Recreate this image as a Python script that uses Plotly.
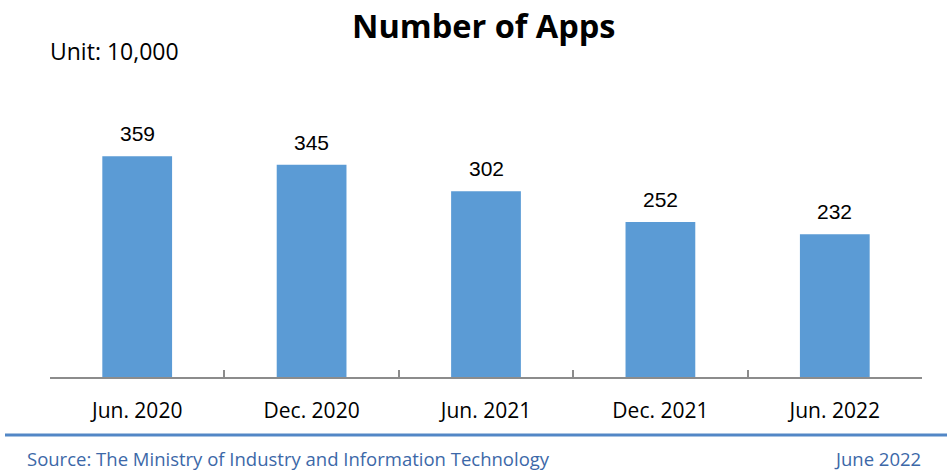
import plotly.graph_objects as go

periods = ["Jun. 2020", "Dec. 2020", "Jun. 2021", "Dec. 2021", "Jun. 2022"]
apps = [359, 345, 302, 252, 232]

title_text = "Number of Apps"
unit_text = "Unit: 10,000"
source_text = "Source: The Ministry of Industry and Information Technology"
date_text = "June 2022"

bar_color = "#5B9BD5"
axis_gray = "#8C8C8C"
footer_blue = "#3C68A8"

fig = go.Figure()

fig.add_trace(go.Bar(
    x=periods, y=apps,
    marker=dict(color=bar_color, line=dict(width=0)),
    width=0.4,
    hoverinfo="x+y",
))

# value labels above each bar
for p, v in zip(periods, apps):
    fig.add_annotation(
        x=p, y=v, text=str(v), showarrow=False,
        yanchor="bottom", yshift=9,
        font=dict(family="Liberation Sans, Arial", size=21, color="#000000"),
    )

# plot area in pixels: x 50..922, y 131..377
L, R, T, B = 50, 25, 131, 95
W, H = 947, 472
pw, ph = W - L - R, H - T - B


def px(x):
    return (x - L) / pw


def py(y):
    return (H - B - y) / ph


fig.add_annotation(
    x=px(484), y=py(25), xref="paper", yref="paper", text="<b>" + title_text + "</b>",
    showarrow=False, xanchor="center", yanchor="middle",
    font=dict(family="Open Sans", size=32.5, color="#000000"),
)
fig.add_annotation(
    x=px(48), y=py(51), xref="paper", yref="paper", text=unit_text,
    showarrow=False, xanchor="left", yanchor="middle",
    font=dict(family="Open Sans", size=23, color="#000000"),
)
fig.add_annotation(
    x=px(25), y=py(458), xref="paper", yref="paper", text=source_text,
    showarrow=False, xanchor="left", yanchor="middle",
    font=dict(family="Open Sans", size=18.5, color=footer_blue),
)
fig.add_annotation(
    x=px(923), y=py(458), xref="paper", yref="paper", text=date_text,
    showarrow=False, xanchor="right", yanchor="middle",
    font=dict(family="Open Sans", size=18.5, color=footer_blue),
)

# blue separator line above the footer
fig.add_shape(
    type="line", xref="paper", yref="paper",
    x0=px(5), x1=px(947), y0=py(435), y1=py(435),
    line=dict(color="#5287C6", width=3),
)

fig.update_layout(
    width=W, height=H,
    margin=dict(l=L, r=R, t=T, b=B),
    plot_bgcolor="white", paper_bgcolor="white",
    showlegend=False,
    bargap=0.6,
    xaxis=dict(
        showline=True, linecolor=axis_gray, linewidth=2,
        ticks="inside", tickson="boundaries", ticklen=7, tickcolor=axis_gray, tickwidth=2,
        showgrid=False, ticklabelstandoff=14,
        tickfont=dict(family="Open Sans", size=21, color="#000000"),
    ),
    yaxis=dict(
        range=[0, 400], visible=False, showgrid=False, zeroline=False,
    ),
)

fig.write_html(
    "out.html",
    config={"displayModeBar": False},
    post_script="document.body.style.margin='0';document.body.style.overflow='hidden';",
)
